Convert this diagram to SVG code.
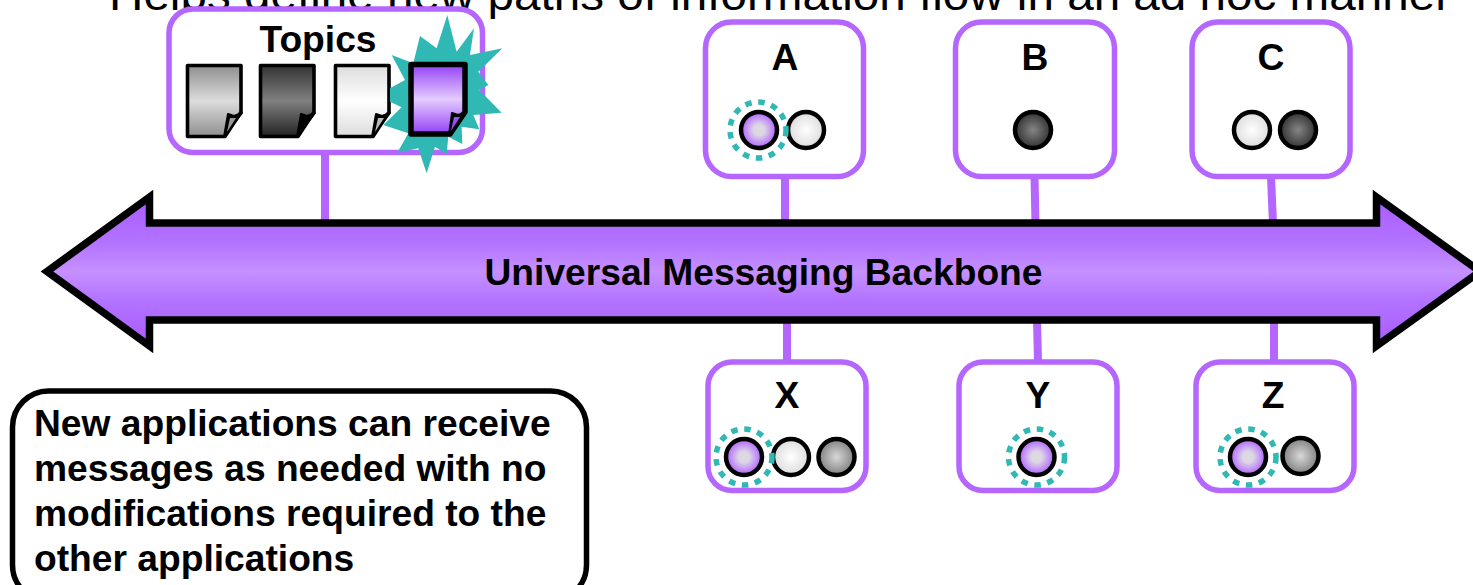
<svg xmlns="http://www.w3.org/2000/svg" width="1473" height="585" viewBox="0 0 1473 585">
<style>
text{font-family:"Liberation Sans",Arial,sans-serif;fill:#000}
.b{font-weight:bold;font-size:37.2px}
.c{text-anchor:middle}
.box{fill:#fff;stroke:#b466ff;stroke-width:5.5}
.link{stroke:#b466ff;stroke-width:8;fill:none}
.dot{stroke:#000;stroke-width:4.5}
.ring{fill:none;stroke:#2fb8b4;stroke-width:5.5;stroke-dasharray:6.5 6.7}
.doc{stroke:#000;stroke-width:3.6;stroke-linejoin:round}
</style>
<defs>
<linearGradient id="ga" x1="0" y1="0" x2="0" y2="1"><stop offset="0" stop-color="#aa5cff"/><stop offset=".3" stop-color="#b272ff"/><stop offset=".5" stop-color="#c690ff"/><stop offset=".7" stop-color="#b272ff"/><stop offset="1" stop-color="#aa5cff"/></linearGradient>
<linearGradient id="d1" x1="0" y1="0" x2="0" y2="1"><stop offset="0" stop-color="#8f8f8f"/><stop offset=".5" stop-color="#dcdcdc"/><stop offset="1" stop-color="#8f8f8f"/></linearGradient>
<linearGradient id="d2" x1="0" y1="0" x2="0" y2="1"><stop offset="0" stop-color="#333"/><stop offset=".5" stop-color="#808080"/><stop offset="1" stop-color="#222"/></linearGradient>
<linearGradient id="d3" x1="0" y1="0" x2="0" y2="1"><stop offset="0" stop-color="#dcdcdc"/><stop offset=".5" stop-color="#fff"/><stop offset="1" stop-color="#dcdcdc"/></linearGradient>
<linearGradient id="d4" x1="0" y1="0" x2="0" y2="1"><stop offset="0" stop-color="#9440f5"/><stop offset=".5" stop-color="#e4ccff"/><stop offset="1" stop-color="#9440f5"/></linearGradient>
<radialGradient id="rp"><stop offset="0" stop-color="#dcdcdc"/><stop offset=".3" stop-color="#dcd6e6"/><stop offset="1" stop-color="#b060ff"/></radialGradient>
<radialGradient id="rw"><stop offset="0" stop-color="#fff"/><stop offset="1" stop-color="#dcdcdc"/></radialGradient>
<radialGradient id="rd"><stop offset="0" stop-color="#858585"/><stop offset="1" stop-color="#333"/></radialGradient>
<radialGradient id="rg"><stop offset="0" stop-color="#d8d8d8"/><stop offset="1" stop-color="#808080"/></radialGradient>
</defs>

<text x="780" y="10" class="c" font-size="44" textLength="1342" lengthAdjust="spacingAndGlyphs">Helps define new paths of information flow in an ad hoc manner</text>

<g id="connectors">
<line class="link" x1="325" y1="153" x2="325" y2="224"/>
<line class="link" x1="785" y1="176" x2="785" y2="224"/>
<line class="link" x1="1034.500" y1="176" x2="1035.500" y2="224"/>
<line class="link" x1="1271" y1="176" x2="1273" y2="224"/>
<line class="link" x1="787" y1="320" x2="787" y2="362"/>
<line class="link" x1="1037" y1="320" x2="1038" y2="362"/>
<line class="link" x1="1274" y1="320" x2="1274" y2="362"/>
</g>

<g id="backbone">
<polygon points="47,271.5 149.500,197 149.500,223 1376.500,223 1376.500,197 1480,271.500 1376.500,346 1376.500,320 149.500,320 149.500,346" fill="url(#ga)" stroke="#000" stroke-width="7.500"/>
<text x="763.500" y="285" class="b c">Universal Messaging Backbone</text>
</g>

<g id="topics">
<rect class="box" x="169" y="9" width="313.500" height="143.500" rx="24"/>
<text x="318" y="52" class="b c">Topics</text>
<g id="topic-1"><path class="doc" fill="url(#d1)" d="M187.500 65.500H241V112L225 136.500H187.500Z"/><path d="M224 137L228 114L234 116L242 113Z" fill="#000" stroke="#000" stroke-width="2" stroke-linejoin="round"/><path d="M227 132L230 118L236 118Z" fill="#999"/></g>
<g id="topic-2"><path class="doc" fill="url(#d2)" d="M260.500 65.500H314V112L298 136.500H260.500Z"/><path d="M297 137L301 114L307 116L315 113Z" fill="#000" stroke="#000" stroke-width="2" stroke-linejoin="round"/></g>
<g id="topic-3"><path class="doc" fill="url(#d3)" d="M335.500 65.500H389V112L373 136.500H335.500Z"/><path d="M372 137L376 114L382 116L390 113Z" fill="#000" stroke="#000" stroke-width="2" stroke-linejoin="round"/><path d="M375 132L378 118L384 118Z" fill="#bbb"/></g>
<g id="topic-4">
<polygon transform="translate(160 0) scale(.3333)" fill="#2fb8b4" points="862,45 890,155 942,85 930,165 1027,145 955,215 985,255 958,270 1025,338 940,345 958,388 905,380 907,432 865,410 860,462 825,440 800,520 775,445 712,458 745,400 670,375 725,322 690,305 690,265 735,240 695,165 760,190 780,108 830,145"/>
<path fill="url(#d4)" stroke="#000" stroke-width="5.500" stroke-linejoin="round" d="M411 64.500H465V112L450 134H411Z"/>
<path d="M449 135L452 113L458 115L466 112Z" fill="#000" stroke="#000" stroke-width="2" stroke-linejoin="round"/><path d="M451 131L454 117L460 117Z" fill="#9a50f0"/>
</g>
</g>

<g id="node-a">
<rect class="box" x="705.500" y="22" width="158" height="154.500" rx="26"/>
<text x="785" y="70" class="b c">A</text>
<circle class="dot" cx="759" cy="130" r="18" fill="url(#rp)"/>
<circle class="dot" cx="806" cy="130" r="18" fill="url(#rw)"/>
<circle class="ring" cx="758" cy="130" r="28"/>
</g>
<g id="node-b">
<rect class="box" x="955.500" y="22" width="159" height="154.500" rx="26"/>
<text x="1035" y="70" class="b c">B</text>
<circle class="dot" cx="1033" cy="130" r="18" fill="url(#rd)"/>
</g>
<g id="node-c">
<rect class="box" x="1192" y="22" width="158" height="154.500" rx="26"/>
<text x="1271" y="70" class="b c">C</text>
<circle class="dot" cx="1252" cy="130" r="18" fill="url(#rw)"/>
<circle class="dot" cx="1298" cy="130" r="18" fill="url(#rd)"/>
</g>
<g id="node-x">
<rect class="box" x="708" y="362" width="158" height="128.500" rx="24"/>
<text x="787" y="408" class="b c">X</text>
<circle class="dot" cx="744" cy="457" r="18" fill="url(#rp)"/>
<circle class="dot" cx="791" cy="457" r="18" fill="url(#rw)"/>
<circle class="dot" cx="836.500" cy="457" r="18" fill="url(#rg)"/>
<circle class="ring" cx="744" cy="457" r="28"/>
</g>
<g id="node-y">
<rect class="box" x="959" y="362" width="158" height="128.500" rx="24"/>
<text x="1038" y="408" class="b c">Y</text>
<circle class="dot" cx="1036.500" cy="457" r="18" fill="url(#rp)"/>
<circle class="ring" cx="1036.500" cy="457" r="28"/>
</g>
<g id="node-z">
<rect class="box" x="1196" y="362" width="158" height="128.500" rx="24"/>
<text x="1273" y="408" class="b c">Z</text>
<circle class="dot" cx="1248" cy="457" r="18" fill="url(#rp)"/>
<circle class="dot" cx="1300.500" cy="456" r="18" fill="url(#rg)"/>
<circle class="ring" cx="1248" cy="457" r="28"/>
</g>

<g id="callout">
<rect x="12.500" y="391" width="574" height="210" rx="36" fill="#fff" stroke="#000" stroke-width="5.500"/>
<text class="b" x="34" y="436">New applications can receive</text>
<text class="b" x="34" y="481">messages as needed with no</text>
<text class="b" x="34" y="526">modifications required to the</text>
<text class="b" x="34" y="571">other applications</text>
</g>
</svg>
